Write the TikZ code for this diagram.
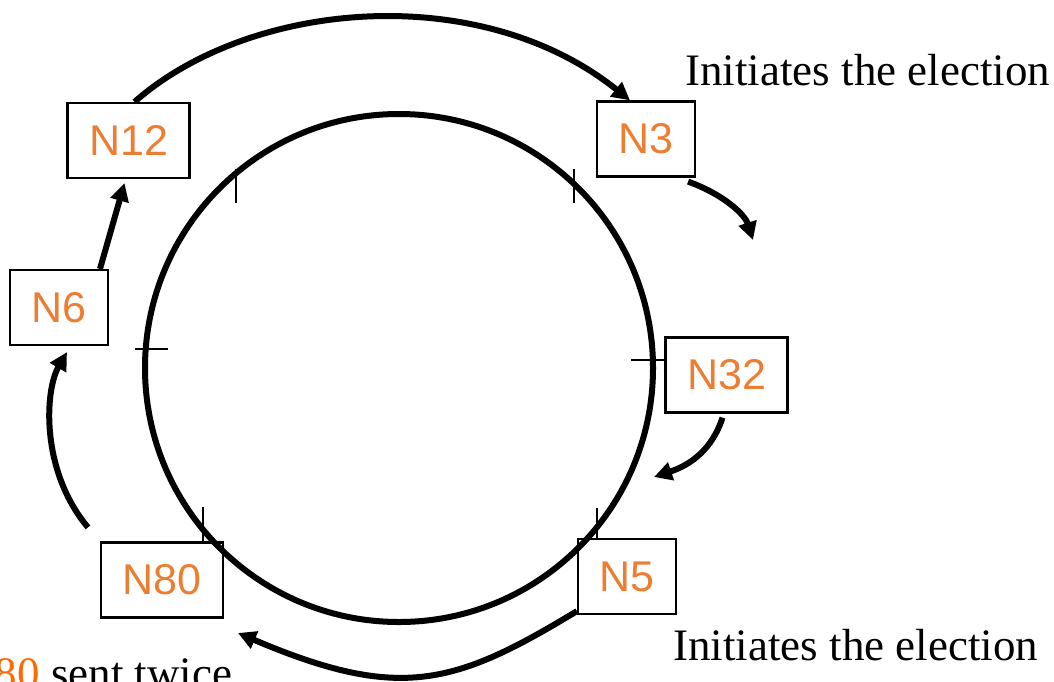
\documentclass[tikz,border=0pt]{standalone}
\usepackage{fontspec}
\setmainfont{Liberation Serif}
\newfontfamily\labelfont{Liberation Sans}
\usepackage{tikz}
\usetikzlibrary{arrows.meta}

\definecolor{nodeorange}{HTML}{ED7D31}
\definecolor{textorange}{HTML}{FF6A00}

\tikzset{
    proc/.style={draw, line width=1.1pt, minimum height=37.5pt, inner xsep=10.75pt,
        inner ysep=0pt, text=nodeorange, font=\labelfont\fontsize{21.5}{24}\selectfont},
    msg/.style={line width=3pt, -{Triangle[length=9pt,width=9pt]}},
    ring/.style={line width=3pt},
    tick/.style={line width=0.8pt},
    note/.style={inner sep=0pt, font=\fontsize{22.5}{27}\selectfont},
}

\begin{document}
\begin{tikzpicture}[x=0.5pt, y=-0.5pt]
            \useasboundingbox (0,0) rectangle (1054,681);
            \clip (0,0) rectangle (1054,681);
            \coordinate (c) at (399, 368);
            \draw[ring] (c) circle [radius=254];
            \draw[tick] (236, 169) to (236, 203);
            \draw[tick] (574, 169) to (574, 203);
            \draw[tick] (135, 349) to (168, 349);
            \draw[tick] (631, 360) to (665, 360);
            \draw[tick] (203, 507) to (203, 541);
            \draw[tick] (597, 508) to (597, 540);
            \node[proc] (n12) at (128.5, 140.5) {N12};
            \node[proc] (n3) at (646, 139) {N3};
            \node[proc] (n32) at (726.5, 375) {N32};
            \node[proc] (n5) at (627, 576.5) {N5};
            \node[proc] (n80) at (162, 580) {N80};
            \node[proc] (n6) at (59, 307.5) {N6};
            \node[note, anchor=base west] (init3) at (685, 85) {Initiates the election};
            \node[note, anchor=base west] (init5) at (673, 660) {Initiates the election};
            \node[note, anchor=base west] (twice) at (-38, 688) {{\color{textorange}N80} sent twice};
            \coordinate (a3) at (753, 240);
            \coordinate (a32) at (654, 477);
            \coordinate (a5) at (238, 633);
            \draw[msg] ([xshift=3pt]n12.north) .. controls (250, 0) and (480, -20) .. ([xshift=-8pt]n3.north);
            \draw[msg] ([xshift=-4pt, yshift=-2pt]n3.south east) .. controls (725, 195) and (745, 215) .. (a3);
            \draw[msg] ([xshift=-2pt, yshift=-2pt]n32.south) .. controls (712, 450) and (690, 465) .. (a32);
            \draw[msg] ([yshift=2pt]n5.south west) .. controls (455, 685) and (400, 702) .. (a5);
            \draw[msg] ([xshift=-6pt, yshift=7pt]n80.north west) .. controls (40, 470) and (45, 390) .. ([xshift=4pt, yshift=-3pt]n6.south);
            \draw[msg] ([xshift=20.5pt]n6.north) to ([xshift=-2pt, yshift=-2pt]n12.south);
        \end{tikzpicture}
\end{document}
